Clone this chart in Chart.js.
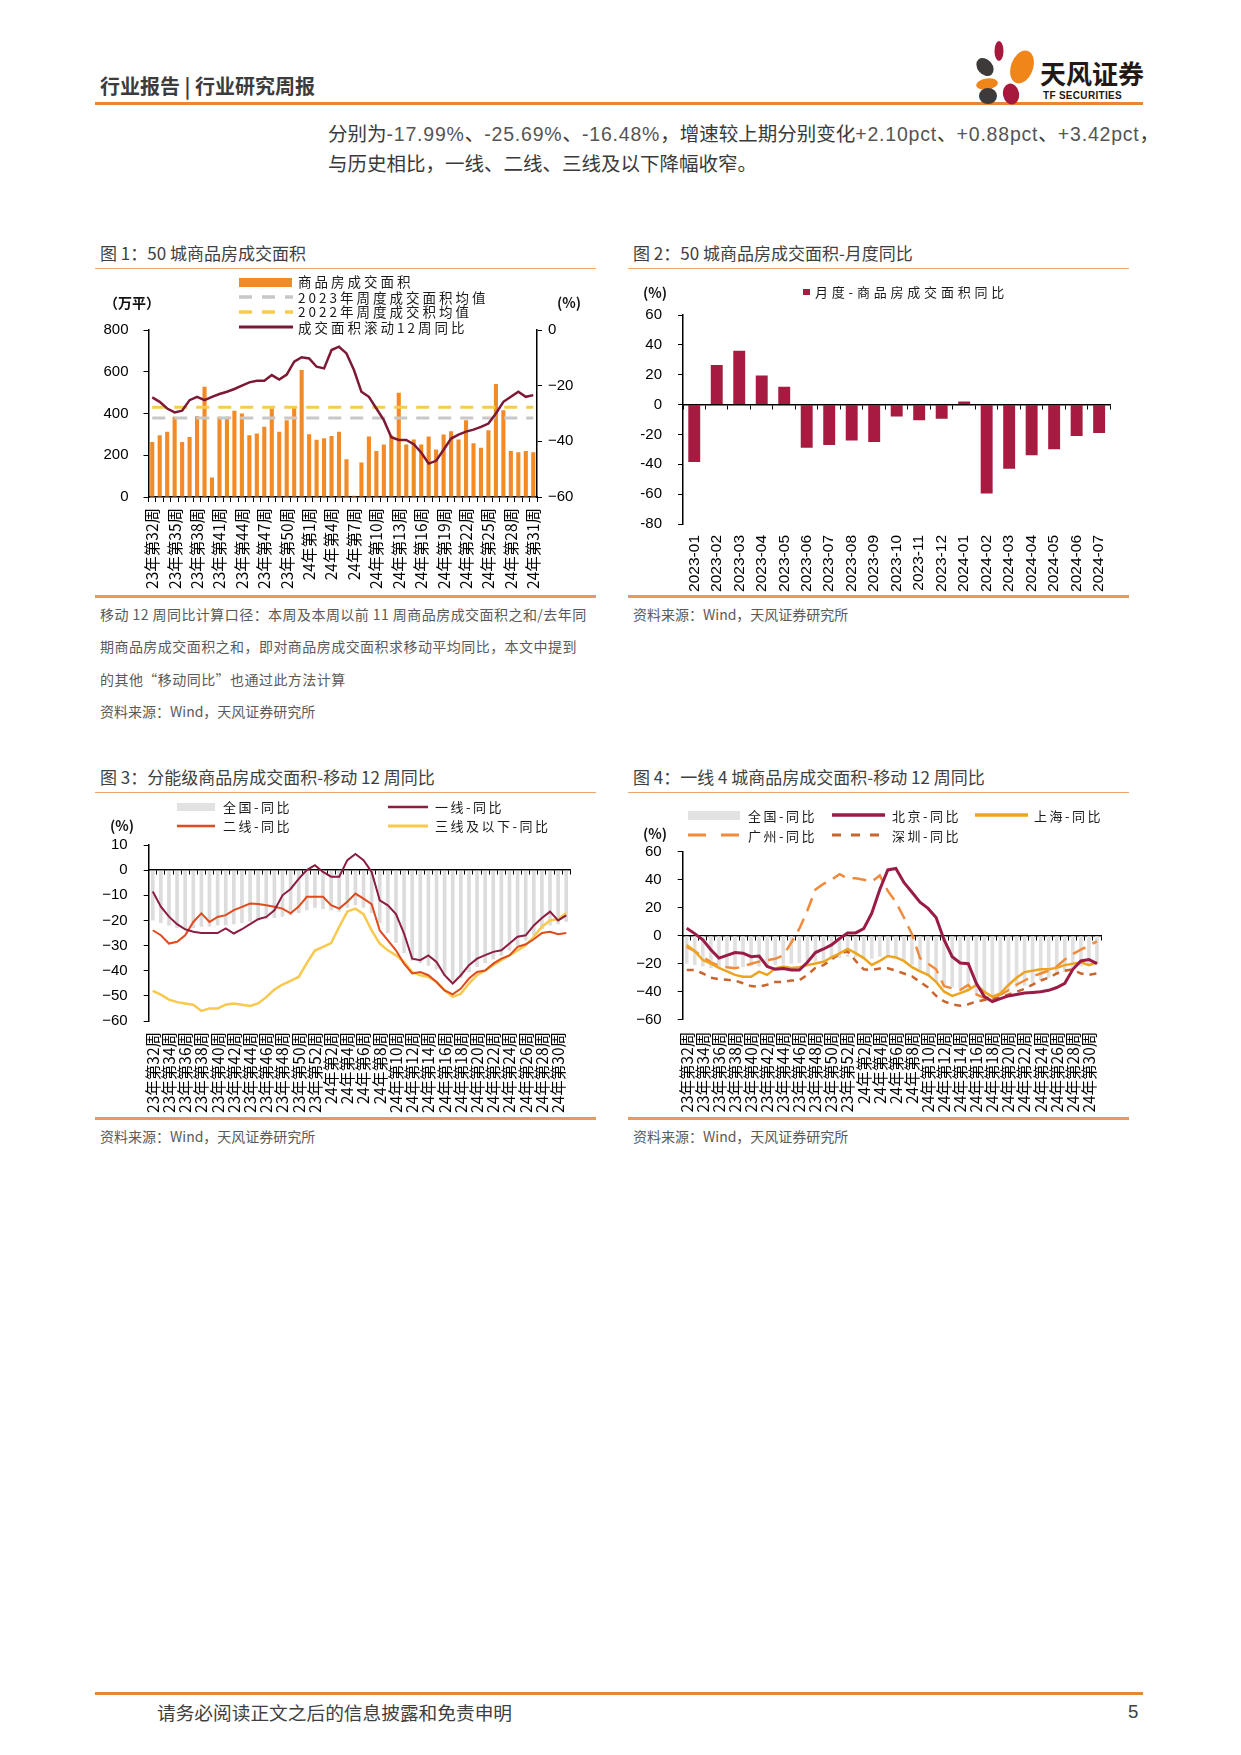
<!DOCTYPE html>
<html lang="zh-CN">
<head>
<meta charset="utf-8">
<title>行业报告 | 行业研究周报</title>
<script src="https://cdn.jsdelivr.net/npm/chart.js@4.4.1/dist/chart.umd.min.js"></script>
<style>
html, body { margin: 0; padding: 0; background: #fff; }
body { position: relative; width: 1241px; height: 1755px; overflow: hidden;
  font-family: "Noto Sans CJK SC", "Noto Sans", sans-serif; color: #404040; }
.t { position: absolute; white-space: nowrap; line-height: 1.15; z-index: 2; }
.rule { position: absolute; }
canvas { position: absolute; z-index: 1; }
.sw { position: absolute; z-index: 2; }
.head { left: 100px; top: 74px; font-size: 20px; font-weight: 700; color: #3c3c3c; }
.para { left: 328px; font-size: 19.5px; color: #3a3a3a; }
.n { font-family: "Liberation Sans Narrow", "Liberation Sans", sans-serif; color: #555; letter-spacing: 0.8px; }
.cap { font-size: 17px; color: #404040; }
.note { font-size: 14px; color: #5a5a5a; }
.leg { font-size: 13.5px; color: #1a1a1a; letter-spacing: 3px; line-height: 15px; }
.leg2 { font-size: 13px; color: #1a1a1a; letter-spacing: 2.5px; line-height: 15px; }
.unit { font-size: 14px; font-weight: 700; color: #111; }
</style>
</head>
<body>

<!-- header -->
<div class="t head">行业报告 | 行业研究周报</div>
<svg class="sw" style="left:970px;top:34px" width="70" height="74">
  <ellipse cx="29" cy="17" rx="4.5" ry="10" fill="#A6193C"/>
  <ellipse cx="52" cy="33" rx="11" ry="17" fill="#F08519" transform="rotate(20 52 33)"/>
  <ellipse cx="15" cy="33" rx="7.5" ry="10" fill="#3E3A39" transform="rotate(-40 15 33)"/>
  <ellipse cx="17" cy="50" rx="11" ry="5.5" fill="#F08519" transform="rotate(-8 17 50)"/>
  <ellipse cx="18" cy="62" rx="9" ry="8" fill="#3E3A39"/>
  <ellipse cx="41" cy="60" rx="8" ry="10.5" fill="#A6193C" transform="rotate(-12 41 60)"/>
</svg>
<div class="t" style="left:1040px;top:58px;font-size:26px;font-weight:700;color:#231815;">天风证券</div>
<div class="t" style="left:1043px;top:90px;font-size:10px;font-weight:700;color:#231815;font-family:'Liberation Sans',sans-serif;letter-spacing:0.3px;">TF SECURITIES</div>
<div class="rule" style="left:95px;top:102px;width:1048px;height:3px;background:#E3873A;"></div>

<div class="t para" style="top:121.5px;">分别为<span class="n">-17.99%</span>、<span class="n">-25.69%</span>、<span class="n">-16.48%</span>，增速较上期分别变化<span class="n">+2.10pct</span>、<span class="n">+0.88pct</span>、<span class="n">+3.42pct</span>，</div>
<div class="t para" style="top:151.5px;">与历史相比，一线、二线、三线及以下降幅收窄。</div>

<!-- chart 1 -->
<div class="t cap" style="left:100px;top:243px;">图 1：50 城商品房成交面积</div>
<div class="rule" style="left:95px;top:268px;width:501px;height:1px;background:#EFA46C;"></div>
<canvas id="areaChart" width="501" height="322" style="left:95px;top:274px"></canvas>
<div class="sw" style="left:239px;top:277.5px;width:53px;height:9px;background:#F28A26;"></div>
<svg class="sw" style="left:239px;top:293px" width="54" height="8"><line x1="0" y1="4" x2="54" y2="4" stroke="#C8C8C8" stroke-width="3.5" stroke-dasharray="13 10"/></svg>
<svg class="sw" style="left:239px;top:307.5px" width="54" height="8"><line x1="0" y1="4" x2="54" y2="4" stroke="#F7CB4D" stroke-width="3.5" stroke-dasharray="13 10"/></svg>
<svg class="sw" style="left:239px;top:323px" width="54" height="8"><line x1="0" y1="4" x2="54" y2="4" stroke="#7D1935" stroke-width="3"/></svg>
<div class="t leg" style="left:298px;top:274.2px;">商品房成交面积</div>
<div class="t leg" style="left:298px;top:289.8px;">2023年周度成交面积均值</div>
<div class="t leg" style="left:298px;top:304.2px;">2022年周度成交积均值</div>
<div class="t leg" style="left:298px;top:319.8px;">成交面积滚动12周同比</div>
<div class="t unit" style="left:104px;top:294px;">（万平）</div>
<div class="t unit" style="left:557px;top:294px;">(%)</div>
<div class="rule" style="left:95px;top:595px;width:501px;height:2.5px;background:#E99A55;"></div>
<div class="t note" style="left:100px;top:605.5px;letter-spacing:0.45px;">移动 12 周同比计算口径：本周及本周以前 11 周商品房成交面积之和/去年同</div>
<div class="t note" style="left:100px;top:637.5px;letter-spacing:0.45px;">期商品房成交面积之和，即对商品房成交面积求移动平均同比，本文中提到</div>
<div class="t note" style="left:100px;top:670.5px;letter-spacing:0.45px;">的其他“移动同比”也通过此方法计算</div>
<div class="t note" style="left:100px;top:702.5px;">资料来源：Wind，天风证券研究所</div>

<!-- chart 2 -->
<div class="t cap" style="left:633px;top:243px;">图 2：50 城商品房成交面积-月度同比</div>
<div class="rule" style="left:628px;top:268px;width:501px;height:1px;background:#EFA46C;"></div>
<canvas id="monthChart" width="501" height="322" style="left:628px;top:274px"></canvas>
<div class="sw" style="left:803px;top:288.5px;width:6.5px;height:6.5px;background:#A61B3F;"></div>
<div class="t leg" style="left:815px;top:284px;letter-spacing:3.8px;font-size:13px;">月度-商品房成交面积同比</div>
<div class="t unit" style="left:643px;top:284px;">(%)</div>
<div class="rule" style="left:628px;top:595px;width:501px;height:2.5px;background:#E99A55;"></div>
<div class="t note" style="left:633px;top:605.5px;">资料来源：Wind，天风证券研究所</div>

<!-- chart 3 -->
<div class="t cap" style="left:100px;top:767px;">图 3：分能级商品房成交面积-移动 12 周同比</div>
<div class="rule" style="left:95px;top:792px;width:501px;height:1px;background:#EFA46C;"></div>
<canvas id="tierChart" width="501" height="322" style="left:95px;top:796px"></canvas>
<div class="sw" style="left:177px;top:802.5px;width:38px;height:8.5px;background:#E2E2E2;"></div>
<svg class="sw" style="left:388px;top:802.7px" width="40" height="8"><line x1="0" y1="4" x2="40" y2="4" stroke="#8C1D3F" stroke-width="2.5"/></svg>
<svg class="sw" style="left:177px;top:821.7px" width="38" height="8"><line x1="0" y1="4" x2="38" y2="4" stroke="#DF4A1E" stroke-width="2.5"/></svg>
<svg class="sw" style="left:388px;top:821.7px" width="40" height="8"><line x1="0" y1="4" x2="40" y2="4" stroke="#F8C94E" stroke-width="3"/></svg>
<div class="t leg2" style="left:223px;top:799.2px;">全国-同比</div>
<div class="t leg2" style="left:435px;top:799.2px;">一线-同比</div>
<div class="t leg2" style="left:223px;top:818.2px;">二线-同比</div>
<div class="t leg2" style="left:435px;top:818.2px;">三线及以下-同比</div>
<div class="t unit" style="left:110px;top:817px;">(%)</div>
<div class="rule" style="left:95px;top:1117px;width:501px;height:2.5px;background:#E99A55;"></div>
<div class="t note" style="left:100px;top:1127.5px;">资料来源：Wind，天风证券研究所</div>

<!-- chart 4 -->
<div class="t cap" style="left:633px;top:767px;">图 4：一线 4 城商品房成交面积-移动 12 周同比</div>
<div class="rule" style="left:628px;top:792px;width:501px;height:1px;background:#EFA46C;"></div>
<canvas id="cityChart" width="501" height="322" style="left:628px;top:796px"></canvas>
<div class="sw" style="left:688px;top:811px;width:52px;height:8.5px;background:#E2E2E2;"></div>
<svg class="sw" style="left:832px;top:811px" width="53" height="8"><line x1="0" y1="4" x2="53" y2="4" stroke="#9B1B47" stroke-width="3.5"/></svg>
<svg class="sw" style="left:975px;top:811px" width="53" height="8"><line x1="0" y1="4" x2="53" y2="4" stroke="#ECA421" stroke-width="3.5"/></svg>
<svg class="sw" style="left:688px;top:831px" width="54" height="8"><line x1="0" y1="4" x2="54" y2="4" stroke="#F18A3B" stroke-width="3" stroke-dasharray="18 15"/></svg>
<svg class="sw" style="left:832px;top:831px" width="53" height="8"><line x1="0" y1="4" x2="53" y2="4" stroke="#C9652F" stroke-width="3" stroke-dasharray="9 10"/></svg>
<div class="t leg2" style="left:748px;top:807.5px;">全国-同比</div>
<div class="t leg2" style="left:892px;top:807.5px;">北京-同比</div>
<div class="t leg2" style="left:1034px;top:807.5px;">上海-同比</div>
<div class="t leg2" style="left:748px;top:827.5px;">广州-同比</div>
<div class="t leg2" style="left:892px;top:827.5px;">深圳-同比</div>
<div class="t unit" style="left:643px;top:825px;">(%)</div>
<div class="rule" style="left:628px;top:1117px;width:501px;height:2.5px;background:#E99A55;"></div>
<div class="t note" style="left:633px;top:1127.5px;">资料来源：Wind，天风证券研究所</div>

<!-- footer -->
<div class="rule" style="left:95px;top:1692px;width:1048px;height:2.5px;background:#E3873A;"></div>
<div class="t" style="left:157px;top:1701px;font-size:18.7px;color:#404040;">请务必阅读正文之后的信息披露和免责申明</div>
<div class="t" style="left:1128px;top:1701px;font-size:18.7px;color:#404040;font-family:'Liberation Sans',sans-serif;">5</div>

<script>
// week categories (shared by charts 1, 3, 4)
const weekLabels = [
    '23年第32周', '23年第33周', '23年第34周', '23年第35周', '23年第36周', '23年第37周', '23年第38周',
    '23年第39周', '23年第40周', '23年第41周', '23年第42周', '23年第43周', '23年第44周', '23年第45周',
    '23年第46周', '23年第47周', '23年第48周', '23年第49周', '23年第50周', '23年第51周', '23年第52周',
    '24年第1周', '24年第2周', '24年第3周', '24年第4周', '24年第5周', '24年第6周', '24年第7周',
    '24年第8周', '24年第9周', '24年第10周', '24年第11周', '24年第12周', '24年第13周', '24年第14周',
    '24年第15周', '24年第16周', '24年第17周', '24年第18周', '24年第19周', '24年第20周', '24年第21周',
    '24年第22周', '24年第23周', '24年第24周', '24年第25周', '24年第26周', '24年第27周', '24年第28周',
    '24年第29周', '24年第30周', '24年第31周'
];

// chart 1: weekly area (万平) and rolling 12-week yoy (%)
const areaWeekly = [264, 296, 312, 384, 264, 288, 387, 528, 94, 384, 384, 413, 400, 296, 304, 336, 424, 312, 368, 432,
    608, 301, 274, 282, 292, 312, 181, 6, 165, 290, 220, 252, 295, 500, 252, 275, 252, 290, 228, 300,
    315, 275, 368, 258, 236, 320, 541, 416, 220, 214, 220, 214];
const rolling12Yoy = [-24.2, -25.8, -28.2, -29.6, -29, -25.2, -24, -25.2, -24, -23, -22.2, -21.2, -20, -18.8, -18.2, -18.2,
    -16.2, -17.8, -16, -11.4, -9.8, -10.2, -13.2, -13.8, -7.2, -6, -8.4, -14.4, -22.2, -24, -28.2, -32.4,
    -38.5, -39.5, -39.5, -41, -44, -48, -47, -43, -39, -37.6, -36.5, -35.8, -34.8, -33.6, -30, -25.8,
    -24, -22.2, -24, -23.4];
const avg2023 = 378;
const avg2022 = 430;

// chart 2: monthly yoy
const monthLabels = ['2023-01', '2023-02', '2023-03', '2023-04', '2023-05', '2023-06', '2023-07', '2023-08',
    '2023-09', '2023-10', '2023-11', '2023-12', '2024-01', '2024-02', '2024-03', '2024-04', '2024-05',
    '2024-06', '2024-07'];
const monthlyYoy = [-38.5, 26.5, 36, 19.5, 12, -29, -27, -24, -25, -8, -10.5, -9.5, 2, -59.5, -43, -34, -30, -21, -19];

// chart 3 / 4: national moving 12-week yoy
const nationalYoy = [-20, -21, -22, -23, -23, -23, -22.5, -22.5, -22, -22, -21.5, -21, -20.5, -20, -19.5, -19, -18.5,
    -18, -17, -16, -15, -15.5, -16, -16.5, -15, -14, -15, -17, -21, -25, -29, -33, -36, -37, -38, -39.5,
    -42, -44, -43, -40.5, -38.5, -37, -35.5, -34, -32, -30, -28, -26, -23.5, -22, -21.5, -20.5];

// chart 3: city tiers
const tier1Yoy = [-8.5, -14.5, -18.5, -21.5, -23.5, -24.5, -25, -25, -25, -23.2, -25.2, -23.5, -21.5, -19.5, -18.6, -16,
    -10, -7.5, -3.5, 0, 2, -0.7, -2.6, -2.6, 4, 6.4, 4, -0.7, -12, -14, -17.5, -25.2, -35.2, -35.8, -33.9,
    -36.5, -41.8, -45.1, -41.8, -37.8, -35.2, -33.8, -32.5, -31.9, -29.2, -26.5, -25.9, -22, -19, -16.5, -20, -18];
const tier2Yoy = [-23.9, -25.9, -29.2, -28.5, -25.9, -20.6, -17.2, -20.6, -18.6, -17.9, -15.9, -14.6, -13.3, -13.5, -14,
    -14.6, -15.3, -17.2, -14.5, -10.6, -10.6, -10.6, -13.9, -15.3, -12.6, -9.3, -11.3, -13.5, -24, -27.9,
    -31.9, -37.2, -41.1, -40.5, -41.8, -44.5, -47.8, -49.4, -47.1, -43.1, -40.5, -39.9, -37.2, -35.2, -33.9,
    -30.5, -29.5, -27.5, -25, -24.5, -25.5, -25];
const tier3Yoy = [-48, -49.5, -51.5, -52.5, -53, -53.5, -56, -55, -55, -53.5, -53, -53.5, -54, -53, -50.5, -47.5, -45.5,
    -44, -42.5, -37, -32, -30.5, -29, -22.5, -16.5, -15.3, -17.5, -24, -29.2, -31.9, -33.9, -36.5, -40.5,
    -41.8, -42.5, -44.5, -47.8, -50.4, -49.1, -45.1, -41.8, -39.9, -37.8, -35.8, -33.9, -31.9, -29.9, -26.5,
    -22.5, -20, -19.5, -17];

// chart 4: tier-1 cities
const beijingYoy = [5.3, 1.5, -3, -10, -16, -14, -12, -12.5, -15, -14.5, -22, -24, -23.5, -24.5, -24.5, -19, -12, -9.5,
    -6.6, -2, 2, 2, 5, 16, 33, 47, 48, 38, 31, 24, 19.5, 13, -3, -15, -19.5, -20, -34, -43.5, -47, -45, -43,
    -42, -41, -40.5, -40, -39, -37, -34, -24, -18, -17, -20];
const shanghaiYoy = [-6.6, -11, -17.4, -20, -23, -25.5, -28, -29.3, -29.3, -25.7, -28, -23.3, -22, -23, -22.5, -21, -19.8,
    -18.6, -15.5, -12.6, -9.5, -12.5, -16, -20.9, -18, -14.5, -15.5, -18, -22.5, -25.5, -28, -33, -40, -43,
    -41, -38.8, -35.2, -40, -43.6, -41.2, -35.2, -30, -26, -25, -24, -24, -23, -21, -20, -19, -21, -19];
const guangzhouYoy = [-8, -11, -15, -19, -21.5, -22.5, -23.3, -22, -20, -18.5, -17.4, -16.5, -14, -5, 5, 18, 33, 37, 40,
    44, 41, 41, 40, 38.6, 43, 32, 24, 13, 1, -16, -20, -24, -36, -37.6, -38.8, -35.2, -42, -44.5, -44, -42,
    -39, -35, -32, -29, -27, -25, -22, -17, -13, -10, -7, -4];
const shenzhenYoy = [-24.5, -24.5, -27, -30, -31, -31.5, -32, -34, -36, -36.4, -35, -33, -33, -32, -31.8, -28, -23, -21,
    -17, -13, -11, -18, -24, -24.5, -23.5, -23.3, -25, -27, -29, -33, -37, -43, -47, -49, -50, -49, -47, -46,
    -45, -44, -42, -40, -38, -35, -32, -30, -27, -25, -24, -27, -28, -27];

const CJK = '"Noto Sans CJK SC", "Noto Sans", sans-serif';
const NUM = '"Liberation Sans", Arial, sans-serif';

Chart.defaults.animation = false;
Chart.defaults.responsive = false;
Chart.defaults.plugins.legend.display = false;
Chart.defaults.plugins.tooltip.enabled = false;
Chart.defaults.color = '#000';

function minusSign(v) {
    return v < 0 ? '\u2212' + Math.abs(v) : String(v);
}

// value axis with fixed width so the plot area lands where the reference has it
function valueAxis(min, max, step, width, position, fmt, pad) {
    return {
        type: 'linear', position: position, min: min, max: max,
        grid: { drawOnChartArea: false, drawTicks: true, tickLength: 5, color: '#000', lineWidth: 1 },
        border: { color: '#000', width: 1.5 },
        ticks: { stepSize: step, padding: pad, color: '#000', font: { family: NUM, size: 15 }, callback: fmt },
        afterFit: function (s) { s.width = width; }
    };
}

// category axis carrying the rotated labels
function labelAxis(every, height, pad, font, withLine) {
    return {
        type: 'category', offset: true,
        grid: withLine
            ? { display: true, offset: true, drawOnChartArea: false, drawTicks: true, tickLength: 5, color: '#000' }
            : { display: false, drawTicks: false },
        border: withLine ? { color: '#000', width: 1.5 } : { display: false },
        ticks: {
            autoSkip: false, minRotation: 90, maxRotation: 90, padding: pad, color: '#000', font: font,
            callback: function (v, i) { return i % every === 0 ? this.getLabelForValue(v) : ''; }
        },
        afterFit: function (s) { s.height = height; }
    };
}

// zero line with tick marks, sitting at y = 0
const zeroAxis = {
    type: 'category', offset: true, position: { y: 0 },
    grid: { display: true, offset: true, drawOnChartArea: false, drawTicks: true, tickLength: 4, color: '#000' },
    border: { color: '#000', width: 1.5 },
    ticks: { display: false, autoSkip: false }
};

function line(label, data, color, width, order, extra) {
    return Object.assign({
        type: 'line', label: label, data: data, xAxisID: 'x', yAxisID: 'y',
        borderColor: color, backgroundColor: color, borderWidth: width,
        pointRadius: 0, tension: 0, fill: false, order: order
    }, extra || {});
}

function drawAreaChart() {
    new Chart(document.getElementById('areaChart'), {
        type: 'bar',
        data: {
            labels: weekLabels,
            datasets: [
                line('成交面积滚动12周同比', rolling12Yoy, '#7D1935', 2.5, 0, { yAxisID: 'y1' }),
                line('2023年周度成交面积均值', weekLabels.map(() => avg2023), '#C8C8C8', 3, 1, { borderDash: [13, 9] }),
                line('2022年周度成交积均值', weekLabels.map(() => avg2022), '#F7CB4D', 3, 2, { borderDash: [13, 9] }),
                {
                    type: 'bar', label: '商品房成交面积', data: areaWeekly, xAxisID: 'x', yAxisID: 'y',
                    backgroundColor: '#F28A26', barPercentage: 0.55, categoryPercentage: 1, order: 3
                }
            ]
        },
        options: {
            layout: { padding: { top: 56, left: 0, right: 0, bottom: 0 } },
            scales: {
                x: labelAxis(3, 99, 6, { family: CJK, size: 15.5 }, true),
                y: valueAxis(0, 800, 200, 53.5, 'left', v => String(v), 15),
                y1: valueAxis(-60, 0, 20, 59, 'right', minusSign, 6)
            }
        }
    });
}

function drawMonthlyChart() {
    new Chart(document.getElementById('monthChart'), {
        type: 'bar',
        data: {
            labels: monthLabels,
            datasets: [{
                label: '月度-商品房成交面积同比', data: monthlyYoy, xAxisID: 'x', yAxisID: 'y',
                backgroundColor: '#A61B3F', barPercentage: 0.53, categoryPercentage: 1
            }]
        },
        options: {
            layout: { padding: { top: 41, left: 0, right: 10, bottom: 0 } },
            scales: {
                x: labelAxis(1, 72, 11, { family: NUM, size: 15.5 }, false),
                x0: zeroAxis,
                y: valueAxis(-80, 60, 20, 55, 'left', v => String(v), 16)
            }
        }
    });
}

function drawTierChart() {
    new Chart(document.getElementById('tierChart'), {
        type: 'bar',
        data: {
            labels: weekLabels,
            datasets: [
                line('一线-同比', tier1Yoy, '#8C1D3F', 2, 0),
                line('二线-同比', tier2Yoy, '#DF4A1E', 2, 1),
                line('三线及以下-同比', tier3Yoy, '#F8C94E', 2.5, 2),
                {
                    type: 'bar', label: '全国-同比', data: nationalYoy, xAxisID: 'x', yAxisID: 'y',
                    backgroundColor: '#DCDCDC', barPercentage: 0.45, categoryPercentage: 1, order: 3
                }
            ]
        },
        options: {
            layout: { padding: { top: 49, left: 0, right: 18, bottom: 0 } },
            scales: {
                x: labelAxis(2, 97, 11, { family: CJK, size: 15.5 }, false),
                x0: zeroAxis,
                y: valueAxis(-60, 10, 10, 53.7, 'left', minusSign, 16)
            }
        }
    });
}

function drawCityChart() {
    new Chart(document.getElementById('cityChart'), {
        type: 'bar',
        data: {
            labels: weekLabels,
            datasets: [
                line('北京-同比', beijingYoy, '#9B1B47', 3, 0),
                line('上海-同比', shanghaiYoy, '#ECA421', 2.5, 1),
                line('广州-同比', guangzhouYoy, '#F18A3B', 2.5, 2, { borderDash: [14, 8] }),
                line('深圳-同比', shenzhenYoy, '#C9652F', 2.5, 3, { borderDash: [7, 6] }),
                {
                    type: 'bar', label: '全国-同比', data: nationalYoy, xAxisID: 'x', yAxisID: 'y',
                    backgroundColor: '#E0E0E0', barPercentage: 0.45, categoryPercentage: 1, order: 4
                }
            ]
        },
        options: {
            layout: { padding: { top: 55.7, left: 0, right: 28, bottom: 0 } },
            scales: {
                x: labelAxis(2, 98.3, 12, { family: CJK, size: 15.5 }, false),
                x0: zeroAxis,
                y: valueAxis(-60, 60, 20, 54.7, 'left', minusSign, 16)
            }
        }
    });
}

window.onload = function () {
    drawAreaChart();
    drawMonthlyChart();
    drawTierChart();
    drawCityChart();
};
</script>
</body>
</html>
